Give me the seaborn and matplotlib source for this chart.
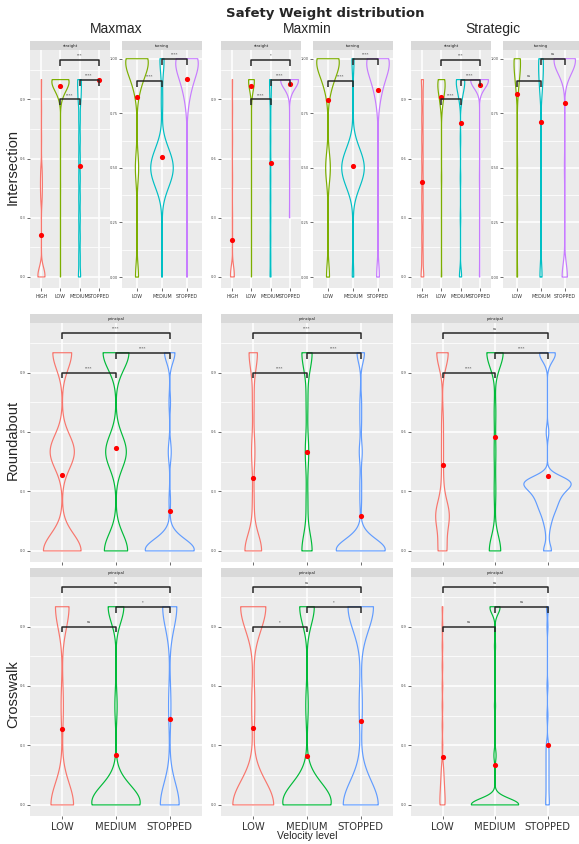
import numpy as np
import pandas as pd
import matplotlib
matplotlib.use("Agg")
import matplotlib.pyplot as plt
import seaborn as sns
from matplotlib.ticker import FixedLocator

W, H = 579, 844

levels_4 = ["HIGH", "LOW", "MEDIUM", "STOPPED"]
levels_3 = ["LOW", "MEDIUM", "STOPPED"]

pal_4 = {"HIGH": "#F8766D", "LOW": "#7CAE00", "MEDIUM": "#00BFC4", "STOPPED": "#C77CFF"}
pal_3 = {"LOW": "#F8766D", "MEDIUM": "#00BA38", "STOPPED": "#619CFF"}

# each group: (velocity level, safety weight values, how many times each one occurs)
# --- Intersection, straight ---
maxmax_straight = [
    ("HIGH", [0.0, 0.03, 0.4, 0.47, 0.54, 0.7, 0.85, 1.0], [20, 6, 4, 5, 4, 1, 1, 1]),
    ("LOW", [0.0, 0.45, 0.92, 0.96, 1.0], [1, 1, 9, 24, 60]),
    ("MEDIUM", [0.0, 0.1, 0.2, 0.3, 0.4, 0.5, 0.6, 0.7, 0.8, 0.9, 0.95, 1.0], [3, 2, 2, 2, 2, 2, 2, 2, 2, 3, 2, 4]),
    ("STOPPED", [1.0], [12]),
]
maxmin_straight = [
    ("HIGH", [0.0, 0.04, 0.2, 0.3, 0.5, 0.7, 0.85, 1.0], [10, 4, 1, 1, 1, 1, 1, 1]),
    ("LOW", [0.0, 0.5, 0.92, 0.96, 1.0], [1, 1, 6, 20, 60]),
    ("MEDIUM", [0.0, 0.1, 0.2, 0.3, 0.4, 0.5, 0.6, 0.7, 0.8, 0.9, 0.95, 1.0], [3, 2, 2, 2, 2, 2, 2, 2, 2, 3, 2, 5]),
    ("STOPPED", [0.3, 0.6, 0.93, 0.97, 1.0], [1, 1, 3, 10, 60]),
]
strategic_straight = [
    ("HIGH", [0.0, 0.1, 0.2, 0.3, 0.4, 0.5, 0.6, 0.7, 0.8, 0.9, 1.0], [4, 2, 2, 2, 2, 2, 2, 2, 2, 2, 3]),
    ("LOW", [0.0, 0.5, 0.85, 0.9, 0.95, 1.0], [1, 1, 2, 5, 10, 12]),
    ("MEDIUM", [0.0, 0.3, 0.5, 0.7, 0.9, 0.95, 1.0], [4, 1, 1, 1, 3, 6, 12]),
    ("STOPPED", [0.0, 0.5, 0.97, 1.0], [1, 1, 10, 60]),
]
# --- Intersection, turning ---
maxmax_turning = [
    ("LOW", [0.0, 0.25, 0.45, 0.5, 0.55, 0.86, 0.93, 1.0], [5, 1, 1, 4, 1, 5, 12, 30]),
    ("MEDIUM", [0.0, 0.2, 0.4, 0.45, 0.5, 0.55, 0.6, 0.8, 0.95, 1.0], [1, 1, 5, 10, 15, 10, 5, 2, 1, 5]),
    ("STOPPED", [0.0, 0.2, 0.4, 0.79, 0.86, 0.93, 1.0], [1, 1, 1, 2, 6, 12, 25]),
]
maxmin_turning = [
    ("LOW", [0.0, 0.25, 0.45, 0.5, 0.55, 0.86, 0.93, 1.0], [5, 1, 2, 5, 2, 5, 12, 30]),
    ("MEDIUM", [0.0, 0.2, 0.4, 0.45, 0.5, 0.55, 0.6, 0.8, 1.0], [2, 1, 5, 10, 15, 10, 5, 1, 3]),
    ("STOPPED", [0.0, 0.3, 0.5, 0.79, 0.86, 0.93, 1.0], [4, 1, 1, 2, 6, 12, 25]),
]
strategic_turning = [
    ("LOW", [0.0, 0.3, 0.5, 0.86, 0.93, 1.0], [1, 1, 1, 2, 4, 8]),
    ("MEDIUM", [0.0, 0.5, 0.86, 0.93, 1.0], [4, 1, 3, 4, 6]),
    ("STOPPED", [0.0, 0.5, 0.95, 1.0], [8, 1, 6, 28]),
]
# --- Roundabout ---
maxmax_round = [
    ("LOW", [0.0, 0.5, 1.0], [14, 9, 7]),
    ("MEDIUM", [0.0, 0.5, 1.0], [9, 8, 10]),
    ("STOPPED", [0.0, 0.06, 0.25, 0.5, 0.75, 1.0], [30, 6, 1, 2, 1, 7]),
]
maxmin_round = [
    ("LOW", [0.0, 0.25, 0.5, 0.75, 1.0], [10, 1, 2, 1, 5]),
    ("MEDIUM", [0.0, 0.25, 0.5, 0.75, 1.0], [6, 1, 2, 1, 6]),
    ("STOPPED", [0.0, 0.06, 0.25, 0.35, 0.5, 0.65, 0.75, 1.0], [30, 6, 1, 1, 2, 1, 1, 5]),
]
strategic_round = [
    ("LOW", [0.0, 0.18, 0.35, 0.5, 0.65, 1.0], [5, 8, 1, 1, 1, 7]),
    ("MEDIUM", [0.0, 0.3, 0.5, 0.7, 1.0], [7, 1, 1, 1, 10]),
    ("STOPPED", [0.0, 0.08, 0.14, 0.19, 0.23, 0.27, 0.31, 0.35, 0.6, 0.95, 0.97, 1.0],
     [3, 1, 2, 3, 4, 5, 7, 14, 1, 1, 1, 5]),
]
# --- Crosswalk ---
maxmax_cross = [
    ("LOW", [0.0, 0.5, 1.0], [10, 1, 6]),
    ("MEDIUM", [0.0, 0.07, 0.5, 1.0], [18, 5, 1, 7]),
    ("STOPPED", [0.0, 0.5, 1.0], [8, 1, 6]),
]
maxmin_cross = [
    ("LOW", [0.0, 0.5, 1.0], [13, 1, 8]),
    ("MEDIUM", [0.0, 0.07, 0.5, 1.0], [16, 5, 1, 6]),
    ("STOPPED", [0.0, 0.5, 1.0], [11, 1, 8]),
]
strategic_cross = [
    ("LOW", [0.0, 0.05, 0.1, 0.15, 0.2, 0.3, 0.4, 0.5, 0.6, 0.7, 0.8, 0.9, 1.0], [6, 5, 4, 3, 2, 1, 1, 1, 1, 1, 1, 1, 1]),
    ("MEDIUM", [0.0, 0.02, 0.25, 0.5, 0.8, 0.97, 1.0], [40, 5, 2, 1, 1, 2, 8]),
    ("STOPPED", [0.0, 0.05, 0.1, 0.15, 0.2, 0.25, 0.3, 0.45, 0.6, 0.9, 1.0], [3, 2, 2, 2, 2, 2, 2, 1, 1, 1, 2]),
]

# widest part of each violin (in category units)
w_maxmax_straight = [0.37, 0.9, 0.2, 0.0]
w_maxmin_straight = [0.2, 0.3, 0.1, 0.93]
w_strategic_straight = [0.14, 0.38, 0.44, 0.93]
w_maxmax_turning = [0.9, 0.9, 0.9]
w_maxmin_turning = [0.9, 0.9, 0.9]
w_strategic_turning = [0.27, 0.2, 0.9]
w_maxmax_round = [0.7, 0.48, 0.91]
w_maxmin_round = [0.31, 0.19, 0.91]
w_strategic_round = [0.26, 0.31, 0.9]
w_maxmax_cross = [0.42, 0.9, 0.35]
w_maxmin_cross = [0.76, 0.9, 0.65]
w_strategic_cross = [0.1, 0.9, 0.07]

# kde bandwidth of each violin
bw_straight = [0.04, 0.04, 0.04, 0.04]
bw_turning = [0.06, 0.06, 0.06]
bw_round = [0.085, 0.085, 0.05]
bw_strategic_round = [0.075, 0.075, 0.032]
bw_cross = [0.11, 0.08, 0.11]
bw_maxmin_cross = [0.12, 0.09, 0.12]
bw_strategic_cross = [0.03, 0.03, 0.03]

# significance labels for (LOW-MEDIUM, MEDIUM-STOPPED, LOW-STOPPED)
pairs = [("LOW", "MEDIUM"), ("MEDIUM", "STOPPED"), ("LOW", "STOPPED")]
bracket_y = [0.9, 1.0, 1.1]
sig_maxmax_straight = ["****", "****", "***"]
sig_maxmin_straight = ["****", "****", "*"]
sig_strategic_straight = ["****", "****", "***"]
sig_maxmax_turning = ["****", "****"]
sig_maxmin_turning = ["****", "****"]
sig_strategic_turning = ["ns", "ns"]
sig_maxmax_round = ["****", "****", "****"]
sig_maxmin_round = ["****", "****", "****"]
sig_strategic_round = ["****", "****", "ns"]
sig_maxmax_cross = ["ns", "*", "ns"]
sig_maxmin_cross = ["*", "*", "ns"]
sig_strategic_cross = ["ns", "ns", "ns"]


def to_frame(groups):
    rows = []
    for lvl, vals, cnts in groups:
        for v in np.repeat(vals, cnts):
            rows.append((lvl, v))
    return pd.DataFrame(rows, columns=["level", "weight"])


def fixed_bw(h):
    # fixed kernel width, whatever the spread of the group
    return lambda k: h / np.std(k.dataset, ddof=1)


def box(x0, x1, y0, y1):
    return [x0 / W, 1 - y1 / H, (x1 - x0) / W, (y1 - y0) / H]


sns.set_style("darkgrid", {"axes.facecolor": "#EBEBEB", "grid.color": "white"})
plt.rcParams["font.family"] = ["DejaVu Sans"]

fig = plt.figure(figsize=(W / 100, H / 100), dpi=100)


def panel(x0, x1, y0, y1, groups, widths, bws, order, pal, sig, strip, turning=False, xlabels=1):
    ax = fig.add_axes(box(x0, x1, y0, y1))
    df = to_frame(groups)
    for (lvl, vals, cnts), wd, bw in zip(groups, widths, bws):
        if len(set(vals)) < 2:
            continue
        sns.violinplot(data=df[df["level"] == lvl], x="level", y="weight", order=order,
                       color=pal[lvl], saturation=1, fill=False, inner=None, cut=0, width=wd,
                       density_norm="width", bw_method=fixed_bw(bw), gridsize=300,
                       linewidth=0.85, ax=ax)
    sns.pointplot(data=df, x="level", y="weight", order=order, estimator="mean", errorbar=None,
                  linestyle="none", color="red", marker="o", markersize=1.7, ax=ax)
    for (a, b), y, lab in zip(pairs, bracket_y, sig):
        xa, xb = order.index(a), order.index(b)
        ax.plot([xa, xa, xb, xb], [y - 0.03, y, y, y - 0.03], color="#262626", lw=1.1,
                solid_capstyle="butt", zorder=5)
        ax.text((xa + xb) / 2, y + 0.012, lab, ha="center", va="bottom", fontsize=2.6, color="#333333")
    ax.set_xlim(-0.6, len(order) - 0.4)
    if turning:
        ax.set_ylim(-0.05, 1.04)
        ax.set_yticks([0, 0.25, 0.5, 0.75, 1.0])
        ax.set_yticklabels(["0,00", "0,25", "0,50", "0,75", "1,00"])
        ax.yaxis.set_minor_locator(FixedLocator([0.125, 0.375, 0.625, 0.875]))
    else:
        ax.set_ylim(-0.056, 1.15)
        ax.set_yticks([0, 0.3, 0.6, 0.9])
        ax.set_yticklabels(["0,0", "0,3", "0,6", "0,9"])
        ax.yaxis.set_minor_locator(FixedLocator([0.15, 0.45, 0.75, 1.05]))
    ax.grid(which="major", color="white", lw=1.1)
    ax.grid(which="minor", axis="y", color="white", lw=0.55)
    ax.set_xlabel("")
    ax.set_ylabel("")
    for s in ax.spines.values():
        s.set_visible(False)
    ax.tick_params(axis="y", left=True, length=2, width=0.5, color="#333333", labelsize=2.6,
                   labelcolor="#4D4D4D", pad=1)
    ax.tick_params(axis="x", bottom=True, length=2, width=0.5, color="#333333", pad=2,
                   labelcolor="#333333", labelsize=3.4 if xlabels == 1 else 7.2)
    if xlabels == 0:
        ax.tick_params(axis="x", labelbottom=False)
    # grey strip on top of the panel
    sax = fig.add_axes(box(x0, x1, y0 - 9, y0))
    sax.set_facecolor("#D9D9D9")
    sax.set_xticks([])
    sax.set_yticks([])
    sax.grid(False)
    for s in sax.spines.values():
        s.set_visible(False)
    sax.text(0.5, 0.45, strip, ha="center", va="center", fontsize=2.8, color="#1A1A1A",
             transform=sax.transAxes)
    return ax


# top row: intersection
panel(30, 110, 50, 288, maxmax_straight, w_maxmax_straight, bw_straight, levels_4, pal_4, sig_maxmax_straight, "straight")
panel(122, 202, 50, 288, maxmax_turning, w_maxmax_turning, bw_turning, levels_3, pal_4, sig_maxmax_turning, "turning", turning=True)
panel(221, 301, 50, 288, maxmin_straight, w_maxmin_straight, bw_straight, levels_4, pal_4, sig_maxmin_straight, "straight")
panel(313, 393, 50, 288, maxmin_turning, w_maxmin_turning, bw_turning, levels_3, pal_4, sig_maxmin_turning, "turning", turning=True)
panel(411, 491, 50, 288, strategic_straight, w_strategic_straight, bw_straight, levels_4, pal_4, sig_strategic_straight, "straight")
panel(503, 579, 50, 288, strategic_turning, w_strategic_turning, bw_turning, levels_3, pal_4, sig_strategic_turning, "turning", turning=True)

# middle row: roundabout
panel(30, 202, 323, 562, maxmax_round, w_maxmax_round, bw_round, levels_3, pal_3, sig_maxmax_round, "principal", xlabels=0)
panel(221, 393, 323, 562, maxmin_round, w_maxmin_round, bw_round, levels_3, pal_3, sig_maxmin_round, "principal", xlabels=0)
panel(411, 579, 323, 562, strategic_round, w_strategic_round, bw_strategic_round, levels_3, pal_3, sig_strategic_round, "principal", xlabels=0)

# bottom row: crosswalk
panel(30, 202, 577, 816, maxmax_cross, w_maxmax_cross, bw_cross, levels_3, pal_3, sig_maxmax_cross, "principal", xlabels=2)
panel(221, 393, 577, 816, maxmin_cross, w_maxmin_cross, bw_maxmin_cross, levels_3, pal_3, sig_maxmin_cross, "principal", xlabels=2)
panel(411, 579, 577, 816, strategic_cross, w_strategic_cross, bw_strategic_cross, levels_3, pal_3, sig_strategic_cross, "principal", xlabels=2)

fig.text(325 / W, 1 - 14 / H, "Safety Weight distribution", ha="center", va="center",
         fontsize=9.5, fontweight="bold")
for name, xc in [("Maxmax", 116), ("Maxmin", 307), ("Strategic", 493)]:
    fig.text(xc / W, 1 - 29 / H, name, ha="center", va="center", fontsize=10,
             family="Liberation Sans")
for name, yc in [("Intersection", 167), ("Roundabout", 440), ("Crosswalk", 694)]:
    fig.text(13 / W, 1 - yc / H, name, ha="center", va="center", rotation=90, fontsize=10.5,
             family="Liberation Sans")
fig.text(307 / W, 1 - 836 / H, "Velocity level", ha="center", va="center", fontsize=7.5,
         family="Liberation Sans")

fig.savefig("out.png", dpi=100, facecolor="white")
